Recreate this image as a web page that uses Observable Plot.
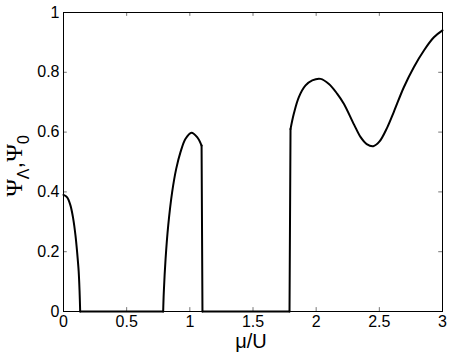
<!DOCTYPE html>
<html><head><meta charset="utf-8">
<script src="https://cdn.jsdelivr.net/npm/d3@7"></script>
<script src="https://cdn.jsdelivr.net/npm/@observablehq/plot@0.6"></script>
<style>body{margin:0;background:#fff}</style>
</head><body><div id="chart"></div>
<script>
const muValues = [0,0.029,0.055,0.077,0.095,0.108,0.12,0.127,0.132,
  0.789,0.794,0.808,0.829,0.860,0.892,0.926,0.966,1.013,1.058,1.093,
  1.1,1.789,
  1.797,1.823,1.863,1.916,1.969,2.035,2.101,2.167,2.219,2.3,2.352,2.4,2.452,2.5,2.563,2.615,2.694,2.773,2.853,2.932,3];
const psiValues = [0.39,0.382,0.355,0.31,0.254,0.198,0.135,0.07,0,
  0,0.065,0.176,0.288,0.399,0.477,0.533,0.578,0.598,0.583,0.555,
  0,0,
  0.61,0.661,0.717,0.756,0.773,0.778,0.761,0.728,0.695,0.625,0.583,0.56,0.553,0.568,0.616,0.668,0.75,0.817,0.873,0.917,0.94];
const branch = [1,1,1,1,1,1,1,1,1,
  2,2,2,2,2,2,2,2,2,2,2,
  3,3,
  4,4,4,4,4,4,4,4,4,4,4,4,4,4,4,4,4,4,4,4,4];
const xTicks = [0,0.5,1,1.5,2,2.5,3];
const xTickLabels = ["0","0.5","1","1.5","2","2.5","3"];
const yTicks = [0,0.2,0.4,0.6,0.8,1];
const yTickLabels = ["0","0.2","0.4","0.6","0.8","1"];

const data = muValues.map((x,i)=>({x, y: psiValues[i], b: branch[i]}));
const jumps = [];
for (let i = 1; i < data.length; i++) {
  if (data[i].b !== data[i-1].b) jumps.push({x1: data[i-1].x, y1: data[i-1].y, x2: data[i].x, y2: data[i].y});
}
const tickLenY = 0.013, tickLenX = 0.03;

const chart = Plot.plot({
  width: 450, height: 352,
  marginLeft: 63, marginRight: 8, marginTop: 12, marginBottom: 41,
  style: {fontFamily: "Liberation Sans, Arial, sans-serif", fontSize: "16px", color: "#000", background: "#fff"},
  x: {domain: [0,3]},
  y: {domain: [0,1]},
  marks: [
    Plot.ruleX(xTicks, {x: d=>d, y1: 0, y2: tickLenY, stroke: "#777", strokeWidth: 1}),
    Plot.ruleX(xTicks, {x: d=>d, y1: 1, y2: 1-tickLenY, stroke: "#777", strokeWidth: 1}),
    Plot.ruleY(yTicks, {y: d=>d, x1: 0, x2: tickLenX, stroke: "#777", strokeWidth: 1}),
    Plot.ruleY(yTicks, {y: d=>d, x1: 3, x2: 3-tickLenX, stroke: "#777", strokeWidth: 1}),
    Plot.frame({stroke: "#000", strokeWidth: 1}),
    Plot.axisX(xTicks, {tickSize: 0, tickPadding: 4, tickFormat: (d,i)=>xTickLabels[i], label: null, fontSize: 16}),
    Plot.axisY(yTicks, {tickSize: 0, tickPadding: 4, tickFormat: (d,i)=>yTickLabels[i], label: null, fontSize: 16}),
    Plot.line(data, {x: "x", y: "y", z: "b", stroke: "#000", strokeWidth: 2, curve: "catmull-rom", strokeLinecap: "round"}),
    Plot.link(jumps, {x1: "x1", y1: "y1", x2: "x2", y2: "y2", stroke: "#000", strokeWidth: 2, strokeLinecap: "round"})
  ]
});
document.getElementById("chart").appendChild(chart);

const svg = d3.select(chart);
svg.append("text").attr("x", 251).attr("y", 348).attr("text-anchor","middle")
  .attr("font-family","Liberation Sans, Arial, sans-serif").attr("font-size", 20).text("μ/U");
const yl = svg.append("text").attr("transform","translate(22,166) rotate(-90)").attr("text-anchor","middle")
  .attr("font-family","Liberation Sans, Arial, sans-serif").attr("font-size", 24);
yl.append("tspan").attr("font-family","Liberation Serif, serif").text("Ψ");
yl.append("tspan").attr("font-size",16).attr("dy",7).text("Λ");
yl.append("tspan").attr("dy",-7).text(",");
yl.append("tspan").attr("font-family","Liberation Serif, serif").text("Ψ");
yl.append("tspan").attr("font-size",16).attr("dy",7).text("0");
</script></body></html>
